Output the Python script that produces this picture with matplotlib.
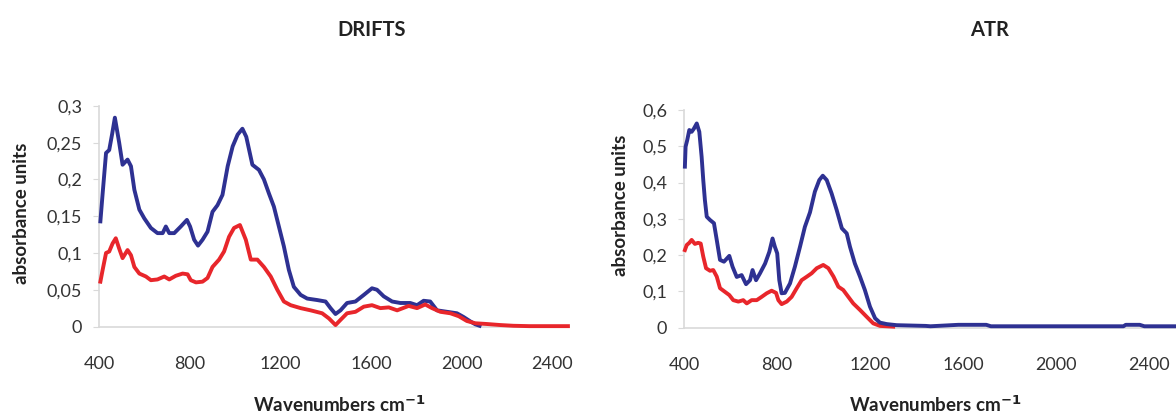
import numpy as np
from matplotlib import pyplot as plt
from matplotlib.ticker import FuncFormatter

# DRIFTS spectra (wavenumber, absorbance)
drifts_blue_x = [406, 416, 431, 445, 458, 470, 489, 504, 526, 541, 556, 578, 600, 629, 658,
                 681, 695, 710, 732, 761, 788, 802, 820, 837, 857, 879, 901, 923, 945, 968,
                 990, 1012, 1033, 1050, 1077, 1106, 1128, 1150, 1172, 1194, 1216, 1238, 1260,
                 1290, 1319, 1363, 1400, 1422, 1444, 1466, 1495, 1532, 1569, 1605, 1627, 1657,
                 1694, 1730, 1774, 1804, 1833, 1862, 1892, 1936, 1980, 2009, 2039, 2061, 2080]
drifts_blue_y = [0.143, 0.181, 0.236, 0.240, 0.262, 0.284, 0.250, 0.220, 0.227, 0.218, 0.186,
                 0.159, 0.147, 0.134, 0.127, 0.127, 0.136, 0.127, 0.127, 0.136, 0.145, 0.136,
                 0.118, 0.110, 0.118, 0.129, 0.156, 0.165, 0.179, 0.218, 0.245, 0.261, 0.269,
                 0.258, 0.220, 0.213, 0.200, 0.181, 0.163, 0.136, 0.109, 0.077, 0.054, 0.043,
                 0.038, 0.036, 0.034, 0.025, 0.017, 0.022, 0.032, 0.034, 0.043, 0.052, 0.050,
                 0.041, 0.034, 0.032, 0.032, 0.029, 0.035, 0.034, 0.022, 0.020, 0.018, 0.013,
                 0.007, 0.003, 0.001]
drifts_red_x = [406, 416, 431, 445, 460, 474, 489, 504, 526, 541, 556, 578, 607, 629, 658,
                688, 710, 739, 769, 791, 805, 828, 857, 879, 901, 930, 952, 974, 996, 1022,
                1048, 1070, 1099, 1128, 1158, 1187, 1216, 1246, 1290, 1334, 1385, 1415, 1444,
                1466, 1495, 1532, 1569, 1605, 1642, 1679, 1716, 1767, 1804, 1840, 1870, 1907,
                1951, 1988, 2024, 2061, 2112, 2171, 2229, 2300, 2400, 2470]
drifts_red_y = [0.061, 0.077, 0.100, 0.102, 0.113, 0.120, 0.106, 0.093, 0.104, 0.097, 0.081,
                0.072, 0.068, 0.063, 0.064, 0.068, 0.064, 0.069, 0.072, 0.071, 0.063, 0.060,
                0.061, 0.066, 0.081, 0.091, 0.102, 0.122, 0.134, 0.138, 0.118, 0.091, 0.091,
                0.081, 0.068, 0.050, 0.034, 0.029, 0.025, 0.022, 0.018, 0.011, 0.002, 0.009,
                0.018, 0.020, 0.027, 0.029, 0.025, 0.026, 0.022, 0.028, 0.025, 0.030, 0.025,
                0.020, 0.018, 0.014, 0.0075, 0.0044, 0.0034, 0.002, 0.001, 0.0005, 0.0005, 0.0005]

# ATR spectra
atr_blue_x = [404, 407, 414, 423, 433, 443, 455, 466, 476, 483, 490, 498, 512, 529, 541, 555,
              572, 595, 609, 627, 648, 667, 684, 695, 710, 727, 749, 767, 781, 791, 801, 810,
              820, 834, 856, 877, 899, 920, 942, 963, 982, 997, 1014, 1035, 1057, 1079, 1100,
              1114, 1135, 1157, 1178, 1200, 1222, 1243, 1272, 1315, 1440, 1460, 1580, 1700,
              1720, 2290, 2300, 2360, 2380, 2510]
atr_blue_y = [0.444, 0.499, 0.517, 0.545, 0.540, 0.549, 0.563, 0.540, 0.471, 0.407, 0.352,
              0.306, 0.297, 0.288, 0.242, 0.187, 0.182, 0.198, 0.168, 0.140, 0.145, 0.120,
              0.131, 0.159, 0.131, 0.150, 0.177, 0.209, 0.246, 0.223, 0.205, 0.131, 0.095,
              0.096, 0.122, 0.168, 0.223, 0.278, 0.318, 0.375, 0.407, 0.419, 0.407, 0.370,
              0.324, 0.274, 0.260, 0.223, 0.177, 0.141, 0.104, 0.058, 0.026, 0.014, 0.010,
              0.007, 0.005, 0.004, 0.008, 0.008, 0.004, 0.004, 0.008, 0.008, 0.004, 0.004]
atr_red_x = [404, 412, 423, 433, 447, 461, 472, 483, 495, 512, 526, 541, 555, 576, 595, 612,
             634, 655, 670, 691, 713, 734, 756, 777, 796, 806, 820, 842, 863, 885, 906, 929,
             949, 971, 999, 1021, 1043, 1064, 1085, 1107, 1128, 1157, 1186, 1214, 1243, 1300]
atr_red_y = [0.214, 0.228, 0.234, 0.242, 0.231, 0.234, 0.232, 0.196, 0.164, 0.157, 0.159,
             0.141, 0.109, 0.099, 0.090, 0.076, 0.072, 0.076, 0.067, 0.076, 0.076, 0.085,
             0.095, 0.102, 0.096, 0.076, 0.065, 0.072, 0.085, 0.109, 0.131, 0.141, 0.150,
             0.164, 0.173, 0.164, 0.141, 0.113, 0.104, 0.085, 0.067, 0.049, 0.030, 0.012,
             0.005, 0.003]

BLUE = "#2e3192"
RED = "#e8262b"
GREY = "#d9d9d9"
FONT = "Lato"

plt.rcParams['font.family'] = [FONT, 'DejaVu Sans']
plt.rcParams['mathtext.default'] = 'regular'


def comma_fmt(v, pos):
    s = f"{v:.2f}".rstrip("0").rstrip(".")
    return s.replace(".", ",")


def style_axes(ax, xmax, ymax, ystep):
    ax.set_xlim(400, xmax)
    ax.set_ylim(0, ymax)
    ax.set_xticks([400, 800, 1200, 1600, 2000, 2400])
    ax.set_yticks(np.arange(0, ymax + ystep / 2, ystep))
    ax.yaxis.set_major_formatter(FuncFormatter(comma_fmt))
    for s in ("top", "right"):
        ax.spines[s].set_visible(False)
    for s in ("left", "bottom"):
        ax.spines[s].set_color(GREY)
        ax.spines[s].set_linewidth(1.2)
    ax.tick_params(axis="y", length=4, color=GREY, pad=8, labelsize=13, labelcolor="#333333")
    ax.tick_params(axis="x", length=0, pad=21, labelsize=13, labelcolor="#333333")


fig = plt.figure(figsize=(11.76, 4.17), dpi=100)
ax1 = fig.add_axes([0.0842, 0.217, 0.3997, 0.529])
ax2 = fig.add_axes([0.5816, 0.2141, 0.4172, 0.522])

ax1.plot(drifts_blue_x, drifts_blue_y, color=BLUE, lw=2.8, clip_on=False, zorder=3)
ax1.plot(drifts_red_x, drifts_red_y, color=RED, lw=2.8, clip_on=False, zorder=4)
style_axes(ax1, 2475, 0.3, 0.05)

ax2.plot(atr_red_x, atr_red_y, color=RED, lw=2.8, clip_on=False, zorder=3)
ax2.plot(atr_blue_x, atr_blue_y, color=BLUE, lw=2.8, clip_on=False, zorder=4)
style_axes(ax2, 2510, 0.6, 0.1)

fig.text(372 / 1176, 1 - 30 / 417, "DRIFTS", ha="center", va="center",
         fontsize=14.5, fontweight="bold", color="#222222")
fig.text(990 / 1176, 1 - 30 / 417, "ATR", ha="center", va="center",
         fontsize=14.5, fontweight="bold", color="#222222")

for xc, yc in [(22, 213), (620, 205)]:
    fig.text(xc / 1176, 1 - yc / 417, "absorbance units", rotation=90, ha="center",
             va="center", fontsize=13.5, fontweight="bold", color="#222222")

for xc in (339, 935):
    fig.text(xc / 1176, 1 - 405 / 417, r"Wavenumbers cm$^{\mathbf{-1}}$", ha="center",
             va="center", fontsize=13.5, fontweight="bold", color="#222222")

fig.savefig("out.png", dpi=100)
